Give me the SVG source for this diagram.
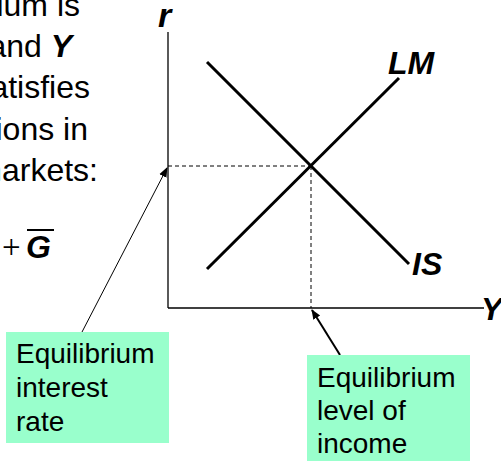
<svg xmlns="http://www.w3.org/2000/svg" width="501" height="461" viewBox="0 0 501 461">
<defs>
<style>
.t{font-family:"Liberation Sans",Arial,sans-serif;font-size:32px;fill:#000}
.bi{font-family:"Liberation Sans",Arial,sans-serif;font-size:32px;font-weight:bold;font-style:italic;fill:#000}
.bx{font-family:"Liberation Sans",Arial,sans-serif;font-size:28px;fill:#000}
.box{fill:#99FFCC;stroke:none}
.ax{stroke:#000;stroke-width:1.3;fill:none}
.cur{stroke:#000;stroke-width:3;fill:none}
.dash{stroke:#000;stroke-width:1;stroke-dasharray:4 3;fill:none}
</style>
<marker id="ah" markerWidth="10" markerHeight="10" refX="9" refY="5" orient="auto" markerUnits="userSpaceOnUse">
<path d="M0,1 L10,5 L0,9 Z" fill="#000"/>
</marker>
</defs>
<rect width="501" height="461" fill="#fff"/>
<g id="left-text">
<text class="t" x="80" y="16" text-anchor="end">lium is</text>
<text class="t" x="72" y="57" text-anchor="end">and <tspan style="font-weight:bold;font-style:italic">Y</tspan></text>
<text class="t" x="90" y="98" text-anchor="end">atisfies</text>
<text class="t" x="88" y="140" text-anchor="end">ions in</text>
<text class="t" x="98" y="181" text-anchor="end">markets:</text>
<text x="2" y="258" style="font-family:'Liberation Serif','Times New Roman',serif;font-size:33px">+</text>
<text class="bi" x="26" y="258" style="font-size:32px">G</text>
<line x1="27" y1="230" x2="54" y2="230" stroke="#000" stroke-width="2"/>
</g>
<g id="axes">
<line class="ax" x1="168" y1="32" x2="168" y2="308"/>
<line class="ax" x1="168" y1="308" x2="484" y2="308"/>
<text class="bi" x="158" y="27" style="font-size:34px">r</text>
<text class="bi" x="481" y="320">Y</text>
</g>
<g id="LM">
<line class="cur" x1="207" y1="269" x2="399" y2="78"/>
<text class="bi" x="388" y="74">LM</text>
</g>
<g id="IS">
<line class="cur" x1="207" y1="62" x2="409" y2="264"/>
<text class="bi" x="412" y="275">IS</text>
</g>
<g id="connectors">
<line class="dash" x1="168" y1="166" x2="311" y2="166"/>
<line class="dash" x1="311" y1="166" x2="311" y2="308"/>
<line x1="82" y1="332" x2="167" y2="168" stroke="#000" stroke-width="1" marker-end="url(#ah)"/>
<line x1="340" y1="355" x2="312" y2="310" stroke="#000" stroke-width="2" marker-end="url(#ah)"/>
</g>
<g id="box-rate">
<rect class="box" x="6" y="332" width="163" height="111"/>
<text class="bx" x="16" y="363">Equilibrium</text>
<text class="bx" x="16" y="397">interest</text>
<text class="bx" x="16" y="431">rate</text>
</g>
<g id="box-income">
<rect class="box" x="307" y="355" width="163" height="106"/>
<text class="bx" x="317" y="387">Equilibrium</text>
<text class="bx" x="317" y="420">level of</text>
<text class="bx" x="317" y="453">income</text>
</g>
</svg>
